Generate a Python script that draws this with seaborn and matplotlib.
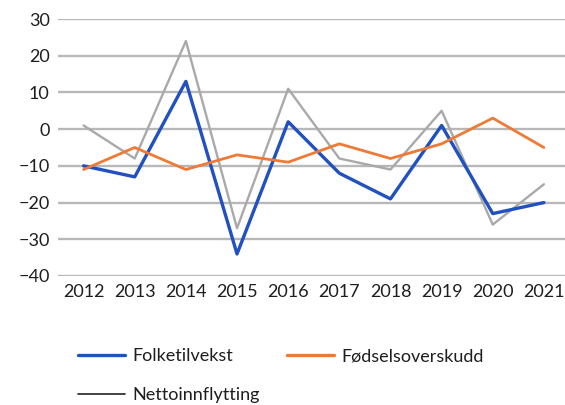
import numpy as np
import pandas as pd
import matplotlib.pyplot as plt
import seaborn as sns
from matplotlib.lines import Line2D

years = [2012, 2013, 2014, 2015, 2016, 2017, 2018, 2019, 2020, 2021]
folketilvekst = [-10, -13, 13, -34, 2, -12, -19, 1, -23, -20]
fodselsoverskudd = [-11, -5, -11, -7, -9, -4, -8, -4, 3, -5]
nettoinnflytting = [1, -8, 24, -27, 11, -8, -11, 5, -26, -15]

series = ['Folketilvekst', 'Fødselsoverskudd', 'Nettoinnflytting']
colors = ['#2150c0', '#ee7a35', '#a9a9a9']
widths = [2.4, 2.0, 1.7]

df = pd.DataFrame({
    'year': years * 3,
    'value': folketilvekst + fodselsoverskudd + nettoinnflytting,
    'serie': [s for s in series for _ in years],
})

sns.set_theme(style='white')
plt.rcParams['font.family'] = ['Lato', 'DejaVu Sans']

fig = plt.figure(figsize=(5.65, 4.05), dpi=100)
ax = fig.add_axes([58 / 565, 1 - 276 / 405, 511.5 / 565, 257 / 405])

# draw in back-to-front order: gray, blue, orange
for s, c, w in [(series[2], colors[2], widths[2]), (series[0], colors[0], widths[0]),
                (series[1], colors[1], widths[1])]:
    sns.lineplot(data=df[df['serie'] == s], x='year', y='value', color=c,
                 linewidth=w, ax=ax, legend=False)

ax.set_xlim(2011.5, 2021.5)
ax.set_ylim(-40, 30)
ax.set_yticks(range(-40, 31, 10))
ax.set_xticks(years)
ax.set_xticklabels([str(y) for y in years])
ax.yaxis.grid(True, color='#b8b8b8', linewidth=1.7)
ax.set_axisbelow(True)
for sp in ax.spines.values():
    sp.set_visible(False)
ax.tick_params(axis='both', labelsize=13, colors='#1e1e1e', length=0, pad=6)
ax.set_xlabel('')
ax.set_ylabel('')

handles = [
    Line2D([], [], color=colors[0], linewidth=2.4),
    Line2D([], [], color='#222222', linewidth=1.2),
    Line2D([], [], color=colors[1], linewidth=2.4),
]
labels = [series[0], series[2], series[1]]
fig.legend(handles, labels, ncol=2, loc='upper left', bbox_to_anchor=(62 / 565, 1 - 332 / 405),
           frameon=False, fontsize=13, handlelength=2.6, handletextpad=0.4,
           columnspacing=1.5, labelspacing=1.25, labelcolor='#1e1e1e')

fig.savefig('out.png', dpi=100)
